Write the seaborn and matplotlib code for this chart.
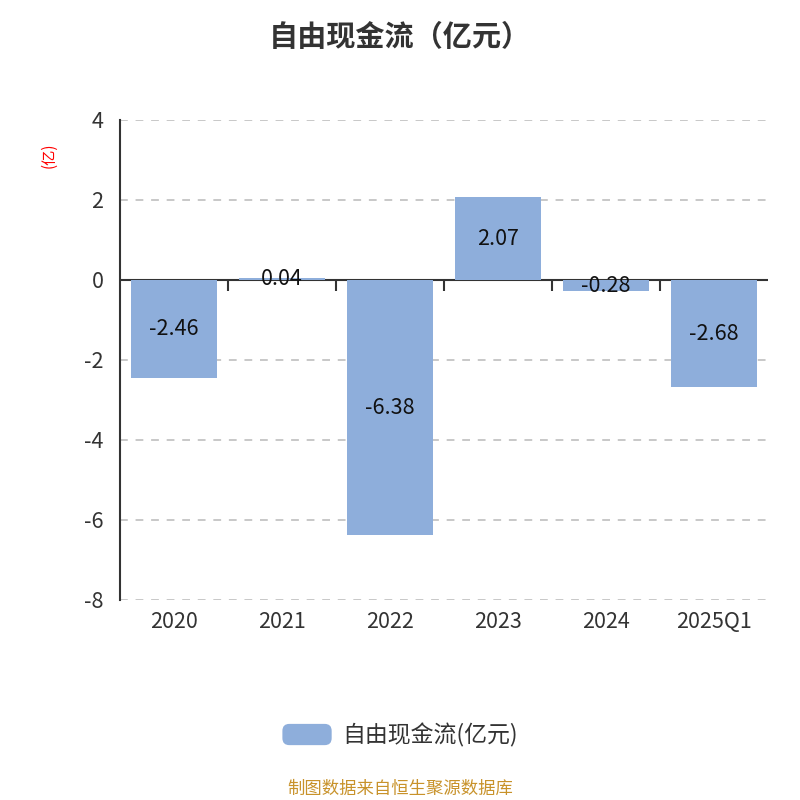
import matplotlib
matplotlib.use('Agg')
import matplotlib.pyplot as plt
import seaborn as sns
import pandas as pd
from matplotlib.patches import FancyBboxPatch
from matplotlib.legend_handler import HandlerPatch, update_from_first_child

periods = ['2020', '2021', '2022', '2023', '2024', '2025Q1']
fcf = [-2.46, 0.04, -6.38, 2.07, -0.28, -2.68]
series_name = '自由现金流(亿元)'

sns.set_style('white')
plt.rcParams['font.family'] = ['Noto Sans CJK SC', 'DejaVu Sans']
plt.rcParams['axes.unicode_minus'] = False

df = pd.DataFrame({'period': periods, 'value': fcf})

fig = plt.figure(figsize=(8, 8), dpi=100)
ax = fig.add_axes([0.15, 0.25, 0.81, 0.60])

bar_color = '#8eaedb'
sns.barplot(data=df, x='period', y='value', color=bar_color, width=0.8,
            saturation=1, linewidth=0, ax=ax, label=series_name)

ymin, ymax = -8, 4
ax.set_ylim(ymin, ymax)
ax.set_xlim(-0.5, len(periods) - 0.5)
ax.set_yticks(range(-8, 5, 2))
ax.yaxis.grid(True, linestyle=(0, (4, 4)), color='#c8c8c8', linewidth=1.4)
ax.set_axisbelow(True)

for s in ['top', 'right', 'bottom']:
    ax.spines[s].set_visible(False)
ax.spines['left'].set_color('#333333')
ax.spines['left'].set_linewidth(1.5)
ax.tick_params(axis='y', length=8, width=1.5, color='#333333',
               labelsize=15.5, labelcolor='#333333', pad=4)
ax.tick_params(axis='x', length=0, labelsize=15.5, labelcolor='#333333', pad=8)
ax.set_xlabel('')
ax.set_ylabel('(亿)', color='red', fontsize=11)
ax.yaxis.set_label_coords(-0.096, 0.927)

# zero line under the bars, with ticks at category boundaries
ax.axhline(0, color='#333333', linewidth=1.5, zorder=0.9)
zero_pos = (0 - ymin) / (ymax - ymin)
sec = ax.secondary_xaxis(zero_pos)
sec.set_alignment('bottom')
sec.set_xticks([i + 0.5 for i in range(len(periods) - 1)])
sec.set_xticklabels([])
sec.tick_params(axis='x', direction='out', length=8, width=1.5, color='#333333')
sec.spines['bottom'].set_visible(False)

for i, v in enumerate(fcf):
    ax.text(i, v / 2, f'{v:.2f}', ha='center', va='center',
            fontsize=15.5, color='#111111', zorder=6)

fig.suptitle('自由现金流（亿元）', y=0.973, fontsize=21, fontweight='bold',
             color='#333333')


def rounded_patch(legend, orig_handle, xdescent, ydescent, width, height, fontsize):
    return FancyBboxPatch((-xdescent, -ydescent), width, height,
                          boxstyle='round,pad=0,rounding_size=5')


handles, labels = ax.get_legend_handles_labels()
leg = ax.legend(handles, labels, loc='center', bbox_to_anchor=(0.5, 0.081),
                bbox_transform=fig.transFigure, frameon=False,
                fontsize=16.5, handlelength=2.15, handleheight=1.05,
                handletextpad=0.45, labelcolor='#333333',
                handler_map={type(handles[0]): HandlerPatch(
                    patch_func=rounded_patch,
                    update_func=update_from_first_child)})

fig.text(0.5, 0.014, '制图数据来自恒生聚源数据库', ha='center', va='center',
         fontsize=12.5, color='#c8922a')

fig.savefig('out.png', dpi=100)
